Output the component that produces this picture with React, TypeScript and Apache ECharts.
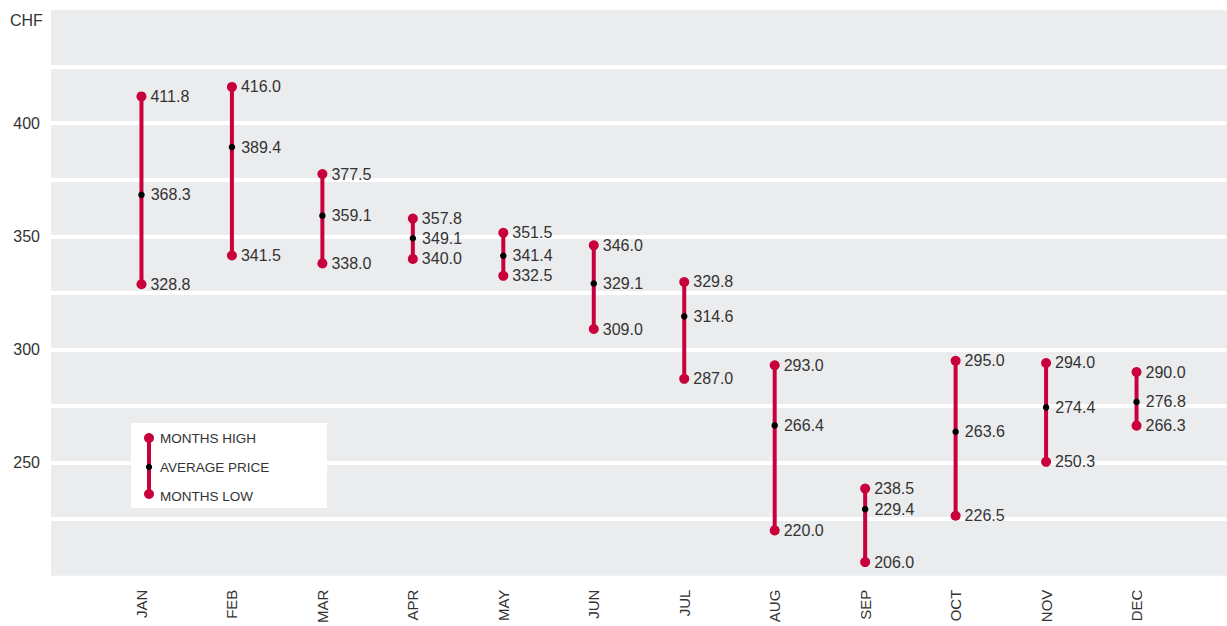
import React, { useEffect, useRef } from "react";
import * as echarts from "echarts";

const months = ["JAN", "FEB", "MAR", "APR", "MAY", "JUN", "JUL", "AUG", "SEP", "OCT", "NOV", "DEC"];
const highs = [411.8, 416.0, 377.5, 357.8, 351.5, 346.0, 329.8, 293.0, 238.5, 295.0, 294.0, 290.0];
const averages = [368.3, 389.4, 359.1, 349.1, 341.4, 329.1, 314.6, 266.4, 229.4, 263.6, 274.4, 276.8];
const lows = [328.8, 341.5, 338.0, 340.0, 332.5, 309.0, 287.0, 220.0, 206.0, 226.5, 250.3, 266.3];
const yTickLabels = [250, 300, 350, 400];
const legendLabels = ["MONTHS HIGH", "AVERAGE PRICE", "MONTHS LOW"];
const unitLabel = "CHF";

const RED = "#c8003c";
const TEXT = "#333333";
const BG = "#ebecee";
const FONT = "'Liberation Sans', Arial, sans-serif";

export default function App() {
  const ref = useRef<HTMLDivElement>(null);
  useEffect(() => {
    document.body.style.margin = "0";
    if (!ref.current) return;
    const chart = echarts.init(ref.current, undefined, { renderer: "svg" });
    const cats = ["", ...months, ""];
    const labelStyle = {
      show: true,
      position: "right" as const,
      color: TEXT,
      fontSize: 16,
      fontFamily: FONT,
      formatter: (p: any) => Number(p.value[1]).toFixed(1),
    };
    chart.setOption({
      animation: false,
      grid: {
        left: 51,
        right: 0,
        top: 10,
        bottom: 48,
        show: true,
        backgroundColor: BG,
        borderWidth: 0,
      },
      xAxis: {
        type: "category",
        data: cats,
        boundaryGap: false,
        axisLine: { show: false },
        axisTick: { show: false },
        splitLine: { show: false },
        axisLabel: {
          rotate: 90,
          margin: 14,
          color: TEXT,
          fontSize: 15,
          fontFamily: FONT,
          interval: 0,
        },
      },
      yAxis: {
        type: "value",
        min: 200,
        max: 450,
        interval: 25,
        axisLine: { show: false },
        axisTick: { show: false },
        axisLabel: {
          margin: 11,
          color: TEXT,
          fontSize: 16,
          fontFamily: FONT,
          padding: [6, 0, 0, 0],
          formatter: (v: number) => (yTickLabels.includes(v) ? String(v) : ""),
        },
        splitLine: {
          show: true,
          showMinLine: false,
          showMaxLine: false,
          lineStyle: { color: "#ffffff", width: 4 },
        },
      },
      graphic: [
        {
          type: "text",
          left: 10,
          top: 12,
          z: 100,
          style: { text: unitLabel, fill: TEXT, fontSize: 16, fontFamily: FONT },
        },
        {
          type: "group",
          left: 131,
          top: 423,
          z: 100,
          children: [
            { type: "rect", z: 100, shape: { x: 0, y: 0, width: 196, height: 85 }, style: { fill: "#ffffff" } },
            { type: "line", z: 101, shape: { x1: 18, y1: 15, x2: 18, y2: 71 }, style: { stroke: RED, lineWidth: 4 } },
            { type: "circle", z: 102, shape: { cx: 18, cy: 15, r: 5 }, style: { fill: RED } },
            { type: "circle", z: 102, shape: { cx: 18, cy: 71, r: 5 }, style: { fill: RED } },
            { type: "circle", z: 103, shape: { cx: 18, cy: 44, r: 3.2 }, style: { fill: "#000000" } },
            ...legendLabels.map((t, i) => ({
              type: "text",
              z: 103,
              x: 29,
              y: [15, 44, 73][i],
              style: {
                text: t,
                fill: TEXT,
                fontSize: 13.5,
                fontFamily: FONT,
                verticalAlign: "middle",
                textVerticalAlign: "middle",
              },
            })),
          ],
        },
      ],
      series: [
        {
          type: "custom",
          data: months.map((_, i) => [i + 1, lows[i], highs[i]]),
          encode: { x: 0, y: [1, 2] },
          z: 1,
          renderItem: (params: any, api: any) => {
            const x = api.value(0);
            const p1 = api.coord([x, api.value(1)]);
            const p2 = api.coord([x, api.value(2)]);
            return {
              type: "line",
              shape: { x1: p1[0], y1: p1[1], x2: p2[0], y2: p2[1] },
              style: { stroke: RED, lineWidth: 4 },
            };
          },
        },
        {
          type: "scatter",
          name: "MONTHS HIGH",
          data: months.map((_, i) => [i + 1, highs[i]]),
          symbolSize: 10,
          itemStyle: { color: RED, opacity: 1 },
          label: { ...labelStyle, distance: 4 },
          z: 3,
        },
        {
          type: "scatter",
          name: "MONTHS LOW",
          data: months.map((_, i) => [i + 1, lows[i]]),
          symbolSize: 10,
          itemStyle: { color: RED, opacity: 1 },
          label: { ...labelStyle, distance: 4 },
          z: 3,
        },
        {
          type: "scatter",
          name: "AVERAGE PRICE",
          data: months.map((_, i) => [i + 1, averages[i]]),
          symbolSize: 6.5,
          itemStyle: { color: "#000000", opacity: 1 },
          label: { ...labelStyle, distance: 6 },
          z: 4,
        },
      ],
    });
    return () => chart.dispose();
  }, []);
  return <div ref={ref} style={{ width: 1227, height: 626 }} />;
}
